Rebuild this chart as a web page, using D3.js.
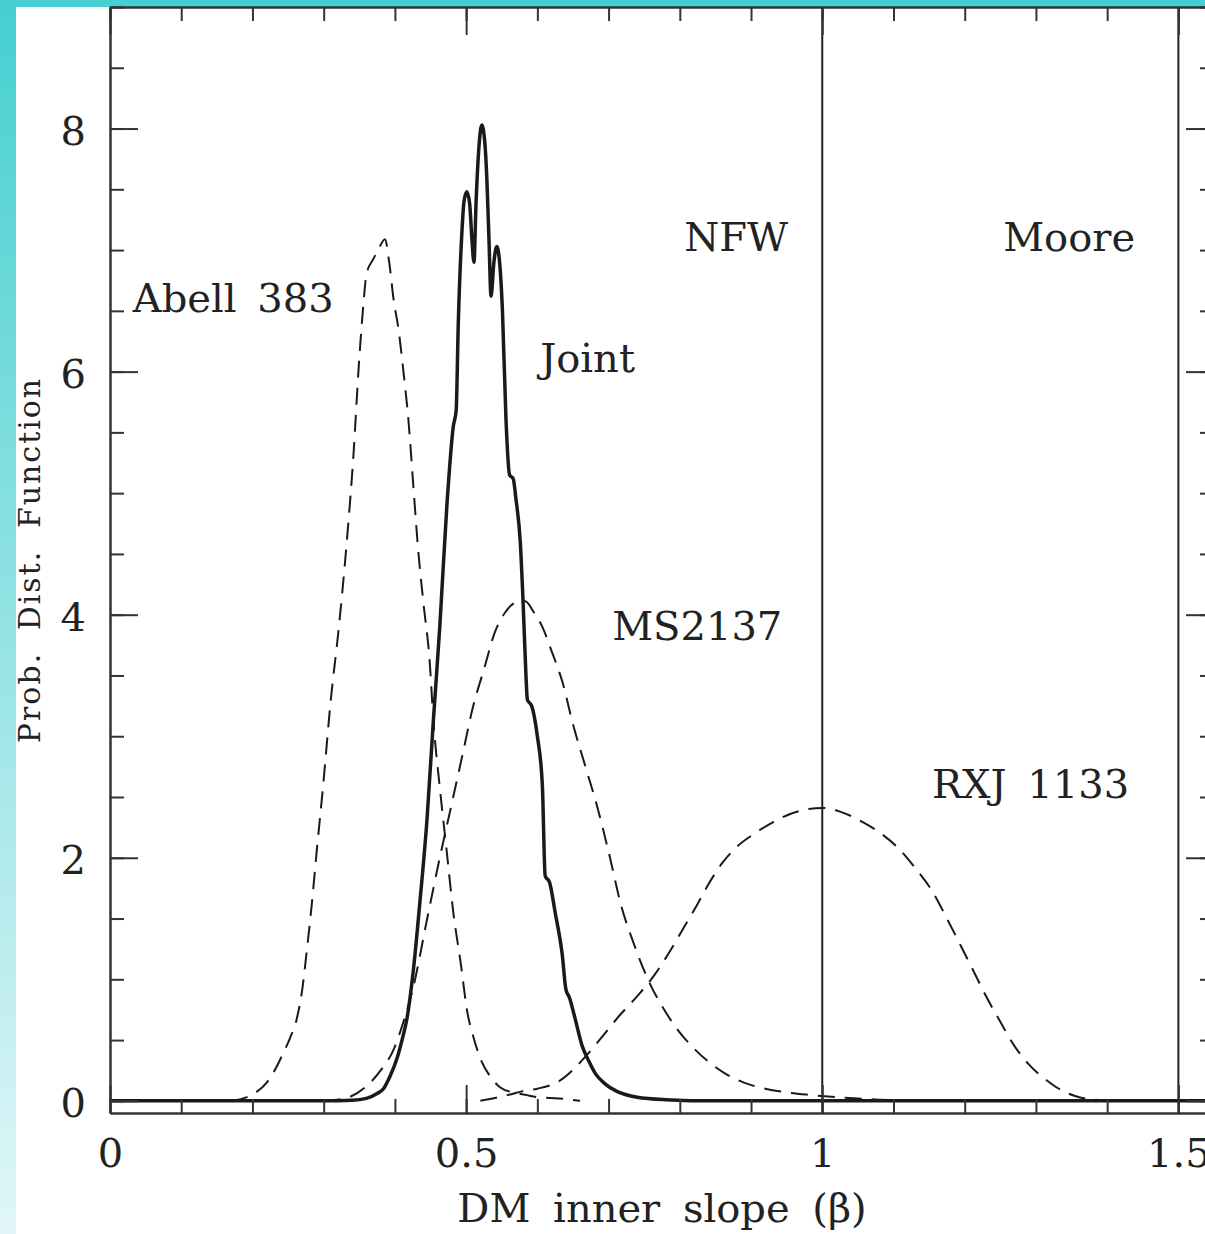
<!DOCTYPE html>
<html>
<head>
<meta charset="utf-8">
<script src="https://cdnjs.cloudflare.com/ajax/libs/d3/7.8.5/d3.min.js"></script>
<style>
    body { margin: 0; background: #fff; }
    svg { display: block; }
    .axis path, .axis line { stroke: #333; stroke-width: 2; }
    .axis text { font-family: 'DejaVu Serif', serif; font-size: 40px; fill: #222; }
    .curve { fill: none; stroke: #1a1a1a; stroke-linejoin: round; }
    .curve.dashed { stroke-width: 2; stroke-dasharray: 17 10; }
    .curve.solid { stroke-width: 3.5; }
    .profile-line { stroke: #222; stroke-width: 2; }
    .label { font-family: 'DejaVu Serif', serif; font-size: 40px; fill: #222; word-spacing: 8px; }
    .axis-title { font-family: 'DejaVu Serif', serif; fill: #222; }
</style>
</head>
<body>
<div id="chart"></div>
<script>
// tick values
const betaMajorTicks = [0, 0.5, 1, 1.5]
const betaMinorTicks = [0, 0.1, 0.2, 0.3, 0.4, 0.5, 0.6, 0.7, 0.8, 0.9, 1, 1.1, 1.2, 1.3, 1.4, 1.5]
const pdfMajorTicks = [0, 2, 4, 6, 8]
const pdfMinorTicks = [0, 0.5, 1, 1.5, 2, 2.5, 3, 3.5, 4, 4.5, 5, 5.5, 6, 6.5, 7, 7.5, 8, 8.5, 9]

// [beta, pdf]
const abell383 = [
    [0.17, 0], [0.187, 0.02], [0.205, 0.07], [0.22, 0.15], [0.232, 0.26], [0.243, 0.39], [0.253, 0.52],
    [0.262, 0.67], [0.27, 0.92], [0.276, 1.22], [0.283, 1.6], [0.29, 2.04], [0.299, 2.58], [0.31, 3.3],
    [0.321, 3.88], [0.333, 4.64], [0.342, 5.33], [0.349, 6.02], [0.356, 6.57], [0.36, 6.8], [0.37, 6.93],
    [0.378, 7.02], [0.386, 7.09], [0.392, 6.9], [0.398, 6.6], [0.405, 6.35], [0.412, 6.0], [0.419, 5.6],
    [0.426, 5.05], [0.433, 4.51], [0.44, 4.1], [0.449, 3.6], [0.454, 3.13], [0.463, 2.58], [0.473, 2.04],
    [0.482, 1.55], [0.492, 1.15], [0.502, 0.72], [0.51, 0.53], [0.522, 0.32], [0.534, 0.2], [0.548, 0.11],
    [0.565, 0.07], [0.583, 0.05], [0.6, 0.03], [0.63, 0.02], [0.66, 0]
]
const ms2137 = [
    [0.3, 0], [0.33, 0.02], [0.36, 0.12], [0.38, 0.25], [0.398, 0.42], [0.412, 0.65], [0.426, 0.94],
    [0.445, 1.49], [0.463, 2.0], [0.48, 2.45], [0.495, 2.85], [0.51, 3.25], [0.525, 3.55], [0.54, 3.85],
    [0.555, 4.02], [0.57, 4.1], [0.583, 4.11], [0.595, 4.02], [0.607, 3.9], [0.62, 3.7], [0.635, 3.45],
    [0.65, 3.1], [0.668, 2.74], [0.685, 2.4], [0.7, 2.05], [0.718, 1.6], [0.735, 1.3], [0.76, 0.94],
    [0.775, 0.78], [0.795, 0.6], [0.82, 0.43], [0.845, 0.3], [0.865, 0.22], [0.89, 0.15], [0.92, 0.1],
    [0.95, 0.07], [0.98, 0.05], [1.02, 0.03], [1.08, 0.01], [1.15, 0]
]
const rxj1133 = [
    [0.52, 0], [0.56, 0.05], [0.58, 0.08], [0.6, 0.1], [0.63, 0.16], [0.67, 0.38], [0.69, 0.52],
    [0.715, 0.7], [0.74, 0.86], [0.765, 1.04], [0.785, 1.22], [0.805, 1.42], [0.825, 1.62], [0.84, 1.78],
    [0.86, 1.96], [0.88, 2.09], [0.905, 2.2], [0.93, 2.29], [0.955, 2.36], [0.98, 2.4], [1.0, 2.41],
    [1.025, 2.38], [1.055, 2.3], [1.08, 2.21], [1.105, 2.09], [1.13, 1.92], [1.155, 1.72], [1.175, 1.5],
    [1.195, 1.27], [1.213, 1.06], [1.23, 0.86], [1.25, 0.65], [1.27, 0.45], [1.29, 0.3], [1.315, 0.17],
    [1.335, 0.09], [1.355, 0.04], [1.38, 0.01], [1.41, 0]
]
const joint = [
    [0, 0], [0.3, 0], [0.34, 0.005], [0.36, 0.02], [0.375, 0.06], [0.384, 0.1], [0.393, 0.2], [0.403, 0.35],
    [0.41, 0.5], [0.417, 0.68], [0.426, 1.08], [0.435, 1.63], [0.445, 2.31], [0.454, 3.13], [0.463, 3.9],
    [0.473, 4.9], [0.482, 5.55], [0.486, 5.68], [0.489, 6.4], [0.494, 7.14], [0.497, 7.4], [0.501, 7.48],
    [0.505, 7.38], [0.508, 7.1], [0.511, 6.9], [0.514, 7.4], [0.518, 7.85], [0.522, 8.03], [0.526, 7.9],
    [0.529, 7.6], [0.532, 7.1], [0.535, 6.62], [0.539, 6.9], [0.543, 7.03], [0.547, 6.9], [0.551, 6.5],
    [0.556, 5.6], [0.561, 5.15], [0.566, 5.12], [0.57, 4.95], [0.576, 4.6], [0.58, 4.1], [0.584, 3.5],
    [0.586, 3.3], [0.592, 3.25], [0.6, 3.0], [0.607, 2.6], [0.611, 1.85], [0.617, 1.8], [0.625, 1.55],
    [0.635, 1.2], [0.64, 0.92], [0.645, 0.85], [0.652, 0.7], [0.663, 0.45], [0.672, 0.33], [0.682, 0.22],
    [0.695, 0.14], [0.711, 0.08], [0.74, 0.03], [0.78, 0.01], [0.85, 0], [1.55, 0]
]

// density profiles marked as vertical lines
const profileNames = ['NFW', 'Moore']
const profileSlopes = [1, 1.5]

class SlopeChart {
    constructor(_config) {
        this.config = {
            parentElement: _config.parentElement,
            containerWidth: _config.containerWidth || 1205,
            containerHeight: _config.containerHeight || 1234,
            margin: _config.margin || {
                top: 7,
                right: -9,
                bottom: 121,
                left: 110
            },
            // label anchors in data units
            labels: [
                { text: 'Abell 383', beta: 0.032, pdf: 6.49, anchor: 'start' },
                { text: 'Joint', beta: 0.604, pdf: 6.0, anchor: 'start' },
                { text: 'NFW', beta: 0.952, pdf: 6.99, anchor: 'end' },
                { text: 'Moore', beta: 1.254, pdf: 6.99, anchor: 'start' },
                { text: 'MS2137', beta: 0.705, pdf: 3.79, anchor: 'start' },
                { text: 'RXJ 1133', beta: 1.154, pdf: 2.49, anchor: 'start' }
            ]
        }
        this.initVis()
    }

    initVis() {
        let vis = this

        vis.width = vis.config.containerWidth - vis.config.margin.left - vis.config.margin.right
        vis.height = vis.config.containerHeight - vis.config.margin.top - vis.config.margin.bottom

        vis.svg = d3.select(vis.config.parentElement).append('svg')
            .attr('width', vis.config.containerWidth)
            .attr('height', vis.config.containerHeight)

        // teal page border
        let grad = vis.svg.append('defs').append('linearGradient')
            .attr('id', 'side-grad')
            .attr('x1', 0).attr('y1', 0).attr('x2', 0).attr('y2', 1)
        grad.append('stop').attr('offset', '0%').attr('stop-color', '#46cfd0')
        grad.append('stop').attr('offset', '100%').attr('stop-color', '#e0f6f8')

        vis.svg.append('rect')
            .attr('width', vis.config.containerWidth)
            .attr('height', vis.config.containerHeight)
            .attr('fill', '#fff')
        vis.svg.append('rect')
            .attr('width', 16)
            .attr('height', vis.config.containerHeight)
            .attr('fill', 'url(#side-grad)')
        vis.svg.append('rect')
            .attr('width', vis.config.containerWidth)
            .attr('height', 7)
            .attr('fill', '#45cfd0')

        vis.svg.select('defs').append('clipPath')
            .attr('id', 'plot-clip')
            .append('rect')
            .attr('width', vis.width)
            .attr('height', vis.height)

        vis.chart = vis.svg.append('g')
            .attr('transform', `translate(${vis.config.margin.left},${vis.config.margin.top})`)

        vis.xScale = d3.scaleLinear()
            .domain([0, 1.55])
            .range([0, vis.width])
        vis.yScale = d3.scaleLinear()
            .domain([-0.1, 9])
            .range([vis.height, 0])

        vis.line = d3.line()
            .x(d => vis.xScale(d[0]))
            .y(d => vis.yScale(d[1]))
            .curve(d3.curveMonotoneX)

        vis.curveGroup = vis.chart.append('g')
            .attr('clip-path', 'url(#plot-clip)')

        // axis titles
        vis.svg.append('text')
            .attr('class', 'axis-title')
            .attr('x', vis.config.margin.left + vis.xScale(0.775))
            .attr('y', 1222)
            .attr('text-anchor', 'middle')
            .style('font-size', '40px')
            .style('word-spacing', '10px')
            .text('DM inner slope (β)')

        vis.svg.append('text')
            .attr('class', 'axis-title')
            .attr('transform', `translate(40,${vis.config.margin.top + vis.yScale(4.45)}) rotate(-90)`)
            .attr('text-anchor', 'middle')
            .style('font-size', '30px')
            .style('letter-spacing', '2px')
            .style('word-spacing', '10px')
            .text('Prob. Dist. Function')
    }

    updateVis() {
        let vis = this

        vis.series = [
            { name: 'Abell 383', values: abell383, dashed: true },
            { name: 'MS2137', values: ms2137, dashed: true },
            { name: 'RXJ 1133', values: rxj1133, dashed: true },
            { name: 'Joint', values: joint, dashed: false }
        ]
        vis.profiles = profileNames.map((n, i) => ({ name: n, beta: profileSlopes[i] }))

        vis.renderVis()
    }

    renderVis() {
        let vis = this

        vis.curveGroup.selectAll('.curve')
            .data(vis.series)
            .join('path')
            .attr('class', d => d.dashed ? 'curve dashed' : 'curve solid')
            .attr('d', d => vis.line(d.values))

        vis.chart.selectAll('.profile-line')
            .data(vis.profiles)
            .join('line')
            .attr('class', 'profile-line')
            .attr('x1', d => vis.xScale(d.beta))
            .attr('x2', d => vis.xScale(d.beta))
            .attr('y1', 0)
            .attr('y2', vis.height)

        // minor ticks on all four sides
        vis.chart.append('g')
            .attr('class', 'axis')
            .attr('transform', `translate(0,${vis.height})`)
            .call(d3.axisBottom(vis.xScale).tickValues(betaMinorTicks).tickSizeInner(-14).tickSizeOuter(0).tickFormat(''))
        vis.chart.append('g')
            .attr('class', 'axis')
            .call(d3.axisTop(vis.xScale).tickValues(betaMinorTicks).tickSizeInner(-14).tickSizeOuter(0).tickFormat(''))
        vis.chart.append('g')
            .attr('class', 'axis')
            .call(d3.axisLeft(vis.yScale).tickValues(pdfMinorTicks).tickSizeInner(-14).tickSizeOuter(0).tickFormat(''))
        vis.chart.append('g')
            .attr('class', 'axis')
            .attr('transform', `translate(${vis.width},0)`)
            .call(d3.axisRight(vis.yScale).tickValues(pdfMinorTicks).tickSizeInner(-14).tickSizeOuter(0).tickFormat(''))

        // major ticks and labels
        vis.chart.append('g')
            .attr('class', 'axis')
            .attr('transform', `translate(0,${vis.height})`)
            .call(d3.axisBottom(vis.xScale).tickValues(betaMajorTicks).tickSizeInner(-28).tickSizeOuter(0).tickPadding(26).tickFormat(d3.format('')))
        vis.chart.append('g')
            .attr('class', 'axis')
            .call(d3.axisTop(vis.xScale).tickValues(betaMajorTicks).tickSizeInner(-28).tickSizeOuter(0).tickFormat(''))
        vis.chart.append('g')
            .attr('class', 'axis')
            .call(d3.axisLeft(vis.yScale).tickValues(pdfMajorTicks).tickSizeInner(-28).tickSizeOuter(0).tickPadding(24).tickFormat(d3.format('')))
            .selectAll('text').attr('dy', '0.4em')
        vis.chart.append('g')
            .attr('class', 'axis')
            .attr('transform', `translate(${vis.width},0)`)
            .call(d3.axisRight(vis.yScale).tickValues(pdfMajorTicks).tickSizeInner(-28).tickSizeOuter(0).tickFormat(''))

        vis.chart.selectAll('.label')
            .data(vis.config.labels)
            .join('text')
            .attr('class', 'label')
            .attr('x', d => vis.xScale(d.beta))
            .attr('y', d => vis.yScale(d.pdf))
            .attr('text-anchor', d => d.anchor)
            .text(d => d.text)
    }
}

const chart = new SlopeChart({ parentElement: '#chart' })
chart.updateVis()
</script>
</body>
</html>
